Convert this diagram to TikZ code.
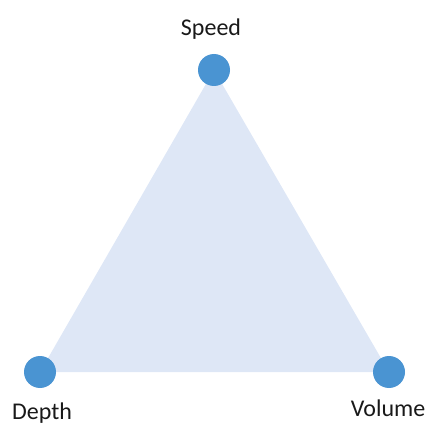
\documentclass[tikz,border=0pt]{standalone}
\usepackage{fontspec}
\setmainfont{Carlito}
\definecolor{dotblue}{HTML}{4A94D2}
\definecolor{fillblue}{HTML}{DEE7F6}
\begin{document}
\begin{tikzpicture}[x=1pt,y=-1pt,
  dot/.style={circle,fill=dotblue,inner sep=0pt,minimum size=32pt},
  lbl/.style={font=\fontsize{24}{28}\selectfont,text=black!90,anchor=base,inner sep=0pt}]
\useasboundingbox (0,0) rectangle (429,425);
\coordinate (S) at (214,70);
\coordinate (D) at (40,372);
\coordinate (V) at (389,372);
\fill[fillblue] (S) -- (D) -- (V) -- cycle;
\node[dot] (s) at (S) {};
\node[dot] (d) at (D) {};
\node[dot] (v) at (V) {};
\node[lbl] (ls) at (211,36) {Speed};
\node[lbl] (ld) at (42,419) {Depth};
\node[lbl] (lv) at (388,416) {Volume};
\end{tikzpicture}
\end{document}
